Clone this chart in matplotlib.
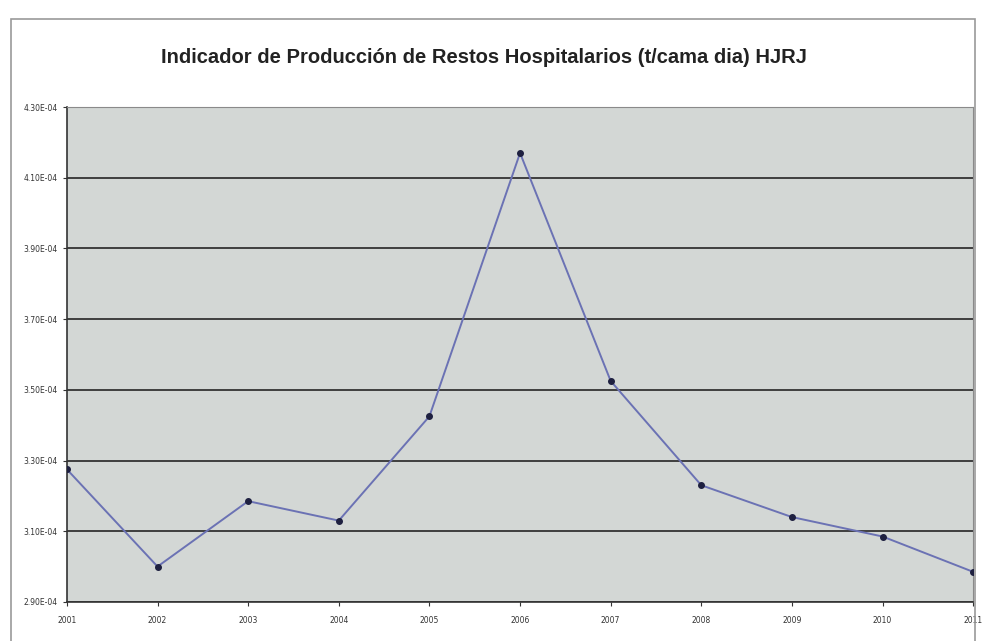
import matplotlib.pyplot as plt
from matplotlib.patches import Rectangle
from matplotlib.ticker import FormatStrFormatter

# Indicador anual de producción (t/cama día)
years = [2001, 2002, 2003, 2004, 2005, 2006, 2007, 2008, 2009, 2010, 2011]
values = [3.275e-4, 3.00e-4, 3.185e-4, 3.13e-4, 3.425e-4, 4.17e-4,
          3.525e-4, 3.23e-4, 3.14e-4, 3.085e-4, 2.985e-4]
y_ticks = [2.9e-4, 3.1e-4, 3.3e-4, 3.5e-4, 3.7e-4, 3.9e-4, 4.1e-4, 4.3e-4]

fig = plt.figure(figsize=(9.84, 6.41), dpi=100)
fig.patch.set_facecolor("white")

# marco exterior del gráfico
fig.patches.append(Rectangle((0.011, -0.01), 0.98, 0.98, transform=fig.transFigure,
                             fill=False, edgecolor="#9a9a9a", linewidth=1.2))

ax = fig.add_axes([0.068, 0.061, 0.921, 0.772])
ax.set_facecolor("#d3d7d5")

for y in y_ticks:
    ax.axhline(y, color="#333333", linewidth=1.3, zorder=1)

ax.plot(range(len(years)), values, color="#6b72b4", linewidth=1.4,
        marker="o", markersize=4, markerfacecolor="#1e2040",
        markeredgecolor="#1e2040", zorder=3)

ax.set_xlim(0, len(years) - 1)
ax.set_ylim(y_ticks[0], y_ticks[-1])
ax.set_yticks(y_ticks)
ax.yaxis.set_major_formatter(FormatStrFormatter("%.2E"))
ax.set_xticks(range(len(years)))
ax.set_xticklabels([str(y) for y in years])
ax.tick_params(axis="both", labelsize=5.5, colors="#333333", length=3, width=0.8)
ax.tick_params(axis="x", pad=7)

for side in ["left", "bottom"]:
    ax.spines[side].set_color("#333333")
    ax.spines[side].set_linewidth(1.2)
for side in ["top", "right"]:
    ax.spines[side].set_color("#8a8a8a")
    ax.spines[side].set_linewidth(0.8)

fig.text(0.492, 0.91, "Indicador de Producción de Restos Hospitalarios (t/cama dia) HJRJ",
         ha="center", va="center", fontsize=14.5, fontweight="bold", color="#222222",
         family=["Liberation Sans", "DejaVu Sans"])

fig.savefig("out.png", dpi=100)
